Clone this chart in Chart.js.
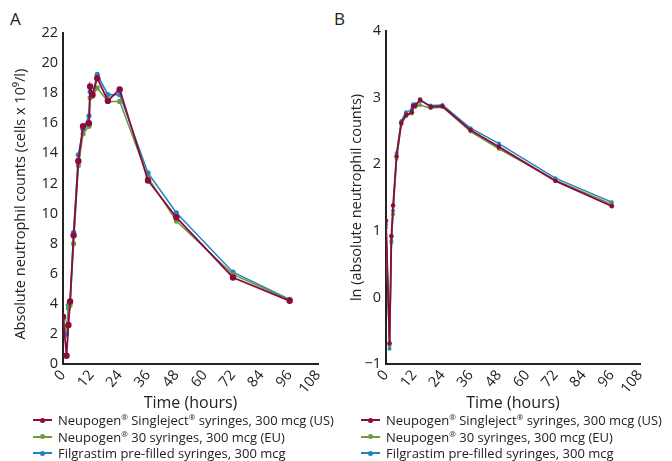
<!DOCTYPE html>
<html>
<head>
<meta charset="utf-8">
<script src="https://cdn.jsdelivr.net/npm/chart.js@4.4.1/dist/chart.umd.min.js"></script>
<style>
  html, body { margin: 0; padding: 0; background: #fff; }
  body { width: 672px; height: 461px; position: relative; overflow: hidden; font-family: "Open Sans", sans-serif; color: #222; }
  .wrap { position: absolute; top: 0; width: 336px; height: 413px; }
  .panel { position: absolute; top: 7px; font-size: 17px; color: #222; }
  .legend { position: absolute; top: 412px; font-size: 13px; line-height: 16.5px; color: #222; }
  .legend .row { display: flex; align-items: center; white-space: nowrap; }
  .legend .sym { position: relative; width: 19px; height: 10px; margin-right: 6px; }
  .legend .sym .ln { position: absolute; left: 0; right: 0; top: 4px; height: 2px; }
  .legend .sym .dot { position: absolute; left: 7px; top: 2.5px; width: 5px; height: 5px; border-radius: 50%; }
  sup { font-size: 8px; line-height: 0; vertical-align: 5px; }
</style>
</head>
<body>
<div class="panel" style="left:10px">A</div>
<div class="panel" style="left:334px">B</div>
<div class="wrap" style="left:0"><canvas id="cA" width="336" height="413"></canvas></div>
<div class="wrap" style="left:336px"><canvas id="cB" width="336" height="413"></canvas></div>
<div class="legend" id="legA" style="left:33px"></div>
<div class="legend" id="legB" style="left:361px"></div>
<script>
// Time points (hours)
const times = [0, 1.5, 2.3, 3, 4.5, 6.5, 8.5, 11, 11.5, 12.5, 14.5, 19, 24, 36, 48, 72, 96];

// Panel A: absolute neutrophil counts (cells x 10^9/l)
const ancUS   = [3.15, 0.55, 2.6, 4.15, 8.55, 13.5, 15.8, 16.0, 18.45, 17.9, 19.0, 17.5, 18.25, 12.2, 9.75, 5.75, 4.2];
const ancEU   = [2.9, 2.3, 3.7, 3.9, 8.0, 13.2, 15.3, 15.8, 17.7, 17.8, 18.35, 17.45, 17.45, 12.4, 9.5, 5.95, 4.25];
const ancFil  = [3.0, 2.0, 3.9, 4.1, 8.75, 13.9, 15.6, 16.5, 18.1, 17.9, 19.25, 17.9, 17.9, 12.7, 10.05, 6.1, 4.3];

// Panel B: ln (absolute neutrophil counts)
const lnUS  = [1.15, -0.69, 0.92, 1.38, 2.12, 2.62, 2.74, 2.78, 2.87, 2.88, 2.97, 2.86, 2.87, 2.51, 2.26, 1.75, 1.37];
const lnEU  = [1.05, -0.72, 0.82, 1.25, 2.08, 2.6, 2.72, 2.76, 2.85, 2.86, 2.89, 2.84, 2.86, 2.49, 2.23, 1.76, 1.40];
const lnFil = [1.1, -0.77, 0.85, 1.3, 2.17, 2.65, 2.78, 2.82, 2.9, 2.9, 2.95, 2.88, 2.89, 2.54, 2.31, 1.79, 1.43];

// Axis ticks
const xTicks = [0, 12, 24, 36, 48, 60, 72, 84, 96, 108];
const yTicksA = [0, 2, 4, 6, 8, 10, 12, 14, 16, 18, 20, 22];
const yTicksB = [-1, 0, 1, 2, 3, 4];

const seriesNames = [
  'Neupogen® Singleject® syringes, 300 mcg (US)',
  'Neupogen® 30 syringes, 300 mcg (EU)',
  'Filgrastim pre-filled syringes, 300 mcg'
];
const seriesHTML = [
  'Neupogen<sup>®</sup> Singleject<sup>®</sup> syringes, 300 mcg (US)',
  'Neupogen<sup>®</sup> 30 syringes, 300 mcg (EU)',
  'Filgrastim pre-filled syringes, 300 mcg'
];
const colors = ['#8a0b3d', '#6c9a3c', '#2282c2'];

const FONT = '"Open Sans", sans-serif';
const TXT = '#222';

function pts(vals) { return vals.map((v, i) => ({ x: times[i], y: v })); }

function mkDatasets(arrs, radii) {
  return arrs.map((a, i) => ({
    label: seriesNames[i],
    data: pts(a),
    showLine: true,
    borderColor: colors[i],
    backgroundColor: colors[i],
    borderWidth: i === 0 ? 1.8 : 1.5,
    pointRadius: radii[i],
    pointHoverRadius: radii[i],
    pointBorderWidth: 0,
    tension: 0
  }));
}

function makeChart(id, arrs, radii, yTicks, yTitle, leftW, rightPad, topPad, minusFmt) {
  const ymin = yTicks[0], ymax = yTicks[yTicks.length - 1];
  return new Chart(document.getElementById(id), {
    type: 'scatter',
    data: { datasets: mkDatasets(arrs, radii) },
    options: {
      responsive: false,
      animation: false,
      events: [],
      layout: { padding: { left: 0, right: rightPad, top: topPad, bottom: 0 } },
      plugins: { legend: { display: false }, tooltip: { enabled: false } },
      scales: {
        x: {
          type: 'linear', min: xTicks[0], max: xTicks[xTicks.length - 1],
          afterBuildTicks: s => { s.ticks = xTicks.map(v => ({ value: v })); },
          ticks: { font: { family: FONT, size: 14.5 }, color: TXT, padding: 3 },
          grid: { display: false, drawTicks: false },
          border: { display: true, color: '#222', width: 2 },
          title: { display: true, text: 'Time (hours)', font: { family: FONT, size: 16 }, color: TXT, padding: { top: 6, bottom: 0 } },
          afterFit: s => { s.height = 49; }
        },
        y: {
          type: 'linear', min: ymin, max: ymax,
          afterBuildTicks: s => { s.ticks = yTicks.map(v => ({ value: v })); },
          ticks: {
            font: { family: FONT, size: 14.5 }, color: TXT, padding: 5,
            callback: v => minusFmt ? String(v).replace('-', '\u2212') : String(v)
          },
          grid: { display: false, drawTicks: false },
          border: { display: true, color: '#222', width: 2 },
          title: { display: true, text: yTitle, font: { family: FONT, size: 14.5 }, color: TXT, padding: { top: 12, bottom: 0 } },
          afterFit: s => { s.width = leftW; }
        }
      }
    }
  });
}

makeChart('cA', [ancUS, ancEU, ancFil], [3.2, 2.6, 2.6], yTicksA,
  'Absolute neutrophil counts (cells x 10\u2079/l)\u00A0\u00A0\u00A0', 63, 18, 33, false);
makeChart('cB', [lnUS, lnEU, lnFil], [2.3, 2.0, 2.0], yTicksB,
  'ln (absolute neutrophil counts)', 50, 32, 31, true);

function buildLegend(id) {
  const el = document.getElementById(id);
  el.innerHTML = seriesHTML.map((t, i) =>
    '<div class="row"><span class="sym"><span class="ln" style="background:' + colors[i] + '"></span>' +
    '<span class="dot" style="background:' + colors[i] + '"></span></span><span>' + t + '</span></div>'
  ).join('');
}
buildLegend('legA');
buildLegend('legB');
</script>
</body>
</html>
